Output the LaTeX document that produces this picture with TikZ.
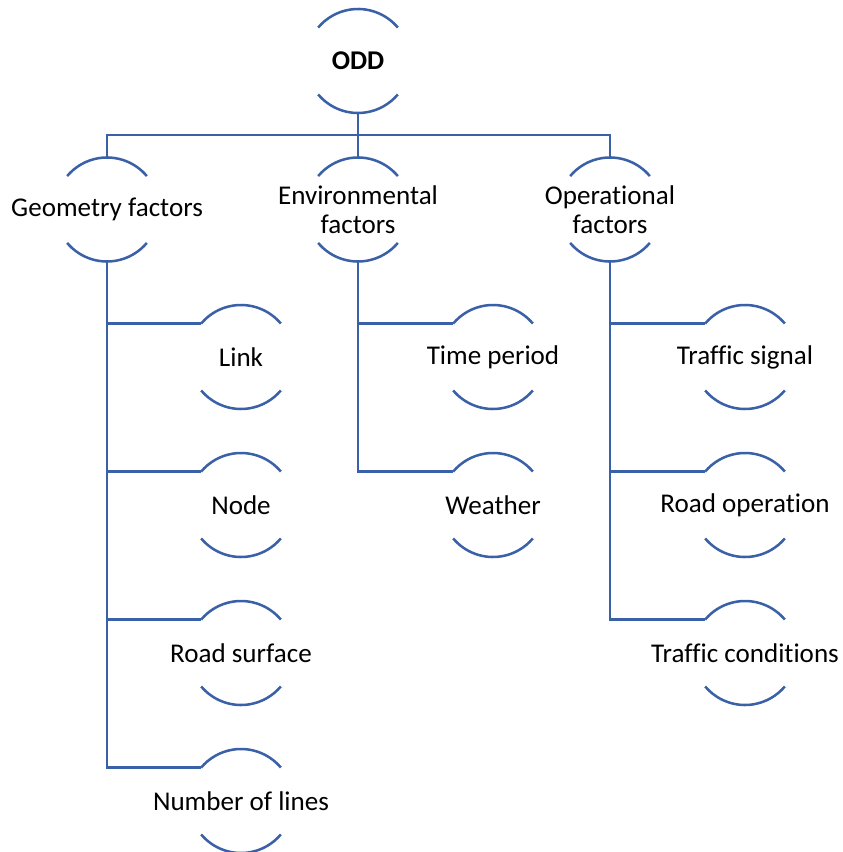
\documentclass[tikz,border=0pt]{standalone}
\usepackage{fontspec}
\setmainfont{Carlito}[Ligatures=NoCommon]
\begin{document}
\begin{tikzpicture}[x=0.75pt,y=0.75pt,
  ringtext/.style={font=\fontsize{20.3}{22}\selectfont, text=black, align=center, inner sep=0pt},
  arcline/.style={draw=lineblue, line width=1.9pt},
  conn/.style={draw=lineblue, line width=1.9pt},
]
\definecolor{lineblue}{RGB}{58,96,168}
\useasboundingbox (0,0) rectangle (842,-852);

% open circle of radius 39pt: label in the middle, upper and lower arcs only
\newcommand{\ringnode}[4]{%
  \node[ringtext] (#1) at (#2,#3) {#4};
  \coordinate (#1-c) at (#2,#3);
  \coordinate (#1-n) at ([yshift=39pt]#1-c);
  \coordinate (#1-s) at ([yshift=-39pt]#1-c);
  \coordinate (#1-w) at ([shift={(140:39pt)}]#1-c);
  \draw[arcline] ([shift={(40:39pt)}]#1-c) arc[start angle=40, end angle=140, radius=39pt];
  \draw[arcline] ([shift={(220:39pt)}]#1-c) arc[start angle=220, end angle=320, radius=39pt];}

% nodes
\ringnode{odd}{358}{-61}{\textbf{ODD}}
\ringnode{geo}{107}{-209.5}{Geometry factors}
\ringnode{env}{358}{-209.5}{Environmental\\factors}
\ringnode{ops}{610}{-209.5}{Operational\\factors}

\ringnode{link}{241}{-357}{Link}
\ringnode{nd}{241}{-505}{Node}
\ringnode{surf}{241}{-653}{Road surface}
\ringnode{lanes}{241}{-801}{Number of lines}

\ringnode{time}{493}{-357}{Time period}
\ringnode{wx}{493}{-505}{Weather}

\ringnode{sig}{745}{-357}{Traffic signal}
\ringnode{rop}{745}{-505}{Road operation}
\ringnode{tc}{745}{-653}{Traffic conditions}

% connectors
\coordinate (bus) at (358,-135);
\draw[conn] (odd-s) -- (bus) -- (env-n);
\draw[conn] (geo-n) |- (bus) -| (ops-n);

\foreach \c in {link,nd,surf,lanes} {\draw[conn] (geo-s) |- (\c-w);}
\foreach \c in {time,wx} {\draw[conn] (env-s) |- (\c-w);}
\foreach \c in {sig,rop,tc} {\draw[conn] (ops-s) |- (\c-w);}
\end{tikzpicture}
\end{document}
